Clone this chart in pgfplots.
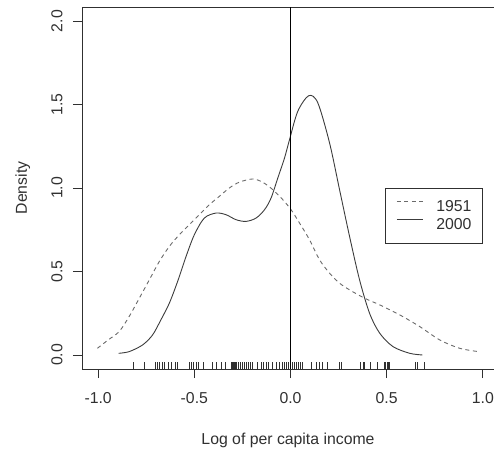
\documentclass[border=0pt]{standalone}
\usepackage{pgfplots}
\pgfplotsset{compat=1.18}
\usepackage{fontspec}
\setmainfont{Liberation Sans}
\definecolor{axcol}{HTML}{303030}
\definecolor{dashcol}{HTML}{6A6A6A}
\definecolor{solcol}{HTML}{3C3C3C}
\begin{document}
\begin{tikzpicture}
\begin{axis}[
  name=ax,
  scale only axis, width=412pt, height=362pt,
  xmin=-1.084, xmax=1.058, ymin=-0.084, ymax=2.084,
  axis line style={draw=axcol, line width=0.9pt},
  xtick={-1,-0.5,0,0.5,1}, xticklabels={-1.0,-0.5,0.0,0.5,1.0},
  ytick={0,0.5,1,1.5,2}, yticklabels={0.0,0.5,1.0,1.5,2.0},
  xtick pos=bottom, ytick pos=left,
  tick align=outside, major tick length=9pt,
  tick style={draw=axcol, line width=0.9pt},
  font=\fontsize{15.8}{18}\selectfont,
  tick label style={text=axcol},
  xticklabel style={anchor=north, yshift=-11pt},
  yticklabel style={rotate=90, anchor=south, yshift=7pt},
  xlabel={Log of per capita income}, ylabel={Density},
  xlabel style={at={(axis description cs:0.5,0)}, anchor=base, yshift=-75pt, text=axcol},
  ylabel style={at={(axis description cs:0,0.5)}, anchor=base, yshift=55pt, text=axcol},
  legend style={at={(axis cs:0.491,1.0)}, anchor=north west, draw=axcol, line width=0.9pt,
    font=\fontsize{15.8}{18}\selectfont, inner xsep=11pt, inner ysep=12pt,
    nodes={inner sep=0pt, text height=11pt, text depth=2pt, text=axcol},
    column sep=13pt, row sep=5pt},
  legend image code/.code={\draw[#1] (0pt,5.5pt) -- (26pt,5.5pt);},
  legend cell align=left,
  clip mode=individual,
]
\addplot[dashcol, line width=0.9pt, dash pattern=on 4pt off 3.5pt, smooth] coordinates {
(-1.004,0.04) (-0.948,0.09) (-0.891,0.14) (-0.839,0.23) (-0.786,0.34) (-0.734,0.45)
(-0.682,0.56) (-0.630,0.65) (-0.578,0.72) (-0.526,0.78) (-0.474,0.84) (-0.422,0.90)
(-0.370,0.95) (-0.318,1.00) (-0.266,1.035) (-0.196,1.054) (-0.144,1.034) (-0.092,0.99)
(-0.040,0.93) (0.003,0.87) (0.047,0.79) (0.099,0.69) (0.151,0.57) (0.203,0.49)
(0.255,0.43) (0.307,0.39) (0.385,0.34) (0.464,0.30) (0.568,0.24) (0.672,0.17)
(0.776,0.09) (0.880,0.04) (0.978,0.02)};
\addlegendentry{1951}
\addplot[solcol, line width=0.9pt, smooth] coordinates {
(-0.894,0.01) (-0.839,0.02) (-0.769,0.06) (-0.717,0.12) (-0.674,0.21) (-0.630,0.31)
(-0.587,0.44) (-0.543,0.59) (-0.500,0.72) (-0.448,0.82) (-0.387,0.85) (-0.335,0.84)
(-0.283,0.81) (-0.231,0.80) (-0.179,0.82) (-0.135,0.87) (-0.101,0.94) (-0.066,1.06)
(-0.031,1.18) (-0.005,1.29) (0.038,1.46) (0.095,1.553) (0.142,1.51) (0.203,1.27)
(0.255,0.99) (0.307,0.71) (0.359,0.45) (0.411,0.25) (0.464,0.13) (0.533,0.05)
(0.620,0.01) (0.686,0.0)};
\addlegendentry{2000}
\addplot[black, line width=0.9pt, forget plot] coordinates {(0,-0.084) (0,2.084)};
\addplot[only marks, mark=|, mark size=3.2pt, mark options={draw=axcol, line width=0.9pt}, forget plot] coordinates {
(-0.818,-0.063) (-0.760,-0.063) (-0.700,-0.063) (-0.690,-0.063) (-0.679,-0.063) (-0.668,-0.063)
(-0.656,-0.063) (-0.634,-0.063) (-0.621,-0.063) (-0.599,-0.063) (-0.589,-0.063)
(-0.526,-0.063) (-0.516,-0.063) (-0.505,-0.063) (-0.491,-0.063) (-0.477,-0.063) (-0.453,-0.063)
(-0.408,-0.063) (-0.384,-0.063) (-0.361,-0.063) (-0.340,-0.063)
(-0.309,-0.063) (-0.304,-0.063) (-0.299,-0.063) (-0.294,-0.063) (-0.289,-0.063) (-0.284,-0.063) (-0.279,-0.063) (-0.273,-0.063)
(-0.262,-0.063) (-0.252,-0.063) (-0.241,-0.063) (-0.231,-0.063) (-0.220,-0.063) (-0.210,-0.063) (-0.200,-0.063)
(-0.170,-0.063) (-0.153,-0.063) (-0.139,-0.063) (-0.127,-0.063) (-0.113,-0.063) (-0.095,-0.063)
(-0.075,-0.063) (-0.057,-0.063) (-0.043,-0.063) (-0.031,-0.063) (-0.019,-0.063) (-0.009,-0.063)
(0.009,-0.063) (0.023,-0.063) (0.033,-0.063) (0.043,-0.063) (0.054,-0.063) (0.064,-0.063)
(0.108,-0.063) (0.134,-0.063) (0.151,-0.063) (0.168,-0.063) (0.194,-0.063)
(0.255,-0.063) (0.264,-0.063) (0.365,-0.063) (0.377,-0.063) (0.385,-0.063) (0.415,-0.063) (0.450,-0.063)
(0.486,-0.063) (0.491,-0.063) (0.496,-0.063) (0.502,-0.063) (0.507,-0.063) (0.512,-0.063)
(0.651,-0.063) (0.658,-0.063) (0.698,-0.063)};
\coordinate (bl) at (rel axis cs:0,0);
\coordinate (tr) at (rel axis cs:1,1);
\end{axis}
\pgfresetboundingbox
\path ([xshift=-82pt,yshift=-81pt]bl) rectangle ([yshift=7pt]tr);
\end{tikzpicture}
\end{document}
